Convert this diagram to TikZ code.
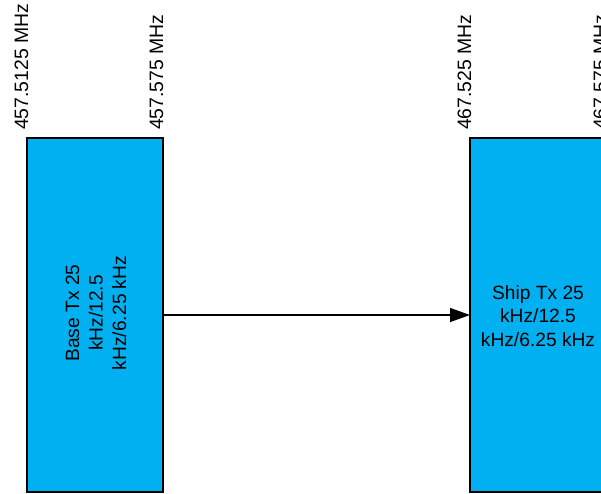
\documentclass[tikz,border=0pt]{standalone}
\usepackage{fontspec}
\setmainfont{Liberation Sans}
\usetikzlibrary{arrows.meta}
\definecolor{bandblue}{HTML}{00B0F0}
\begin{document}
\begin{tikzpicture}[x=1pt,y=-1pt,
  band/.style={draw=black,line width=1.4pt,fill=bandblue},
  bandtext/.style={align=center,font=\fontsize{19.2}{23.5}\selectfont,inner sep=0pt},
  freq/.style={rotate=90,anchor=base west,inner sep=0pt,font=\fontsize{19.4}{22}\selectfont},
  link/.style={line width=1.2pt,-{Triangle[length=20pt,width=14pt]}}]
\useasboundingbox (0,0) rectangle (601,494);
% frequency blocks
\draw[band] (27,138) rectangle (163,492);
\draw[band] (470,138) rectangle (606,492);
\coordinate (baseR) at (163,315);
\coordinate (shipL) at (470,315);
\node[bandtext,rotate=90] (base) at (96,313) {Base Tx 25\\kHz/12.5\\kHz/6.25 kHz};
\node[bandtext] (ship) at (538,316) {Ship Tx 25\\kHz/12.5\\kHz/6.25 kHz};
% edge frequencies
\node[freq] (f1) at (28,130) {457.5125 MHz};
\node[freq] (f2) at (163,130) {457.575 MHz};
\node[freq] (f3) at (471,130) {467.525 MHz};
\node[freq] (f4) at (607,130) {467.575 MHz};
% link
\draw[link] (baseR) -- (shipL);
\end{tikzpicture}
\end{document}
